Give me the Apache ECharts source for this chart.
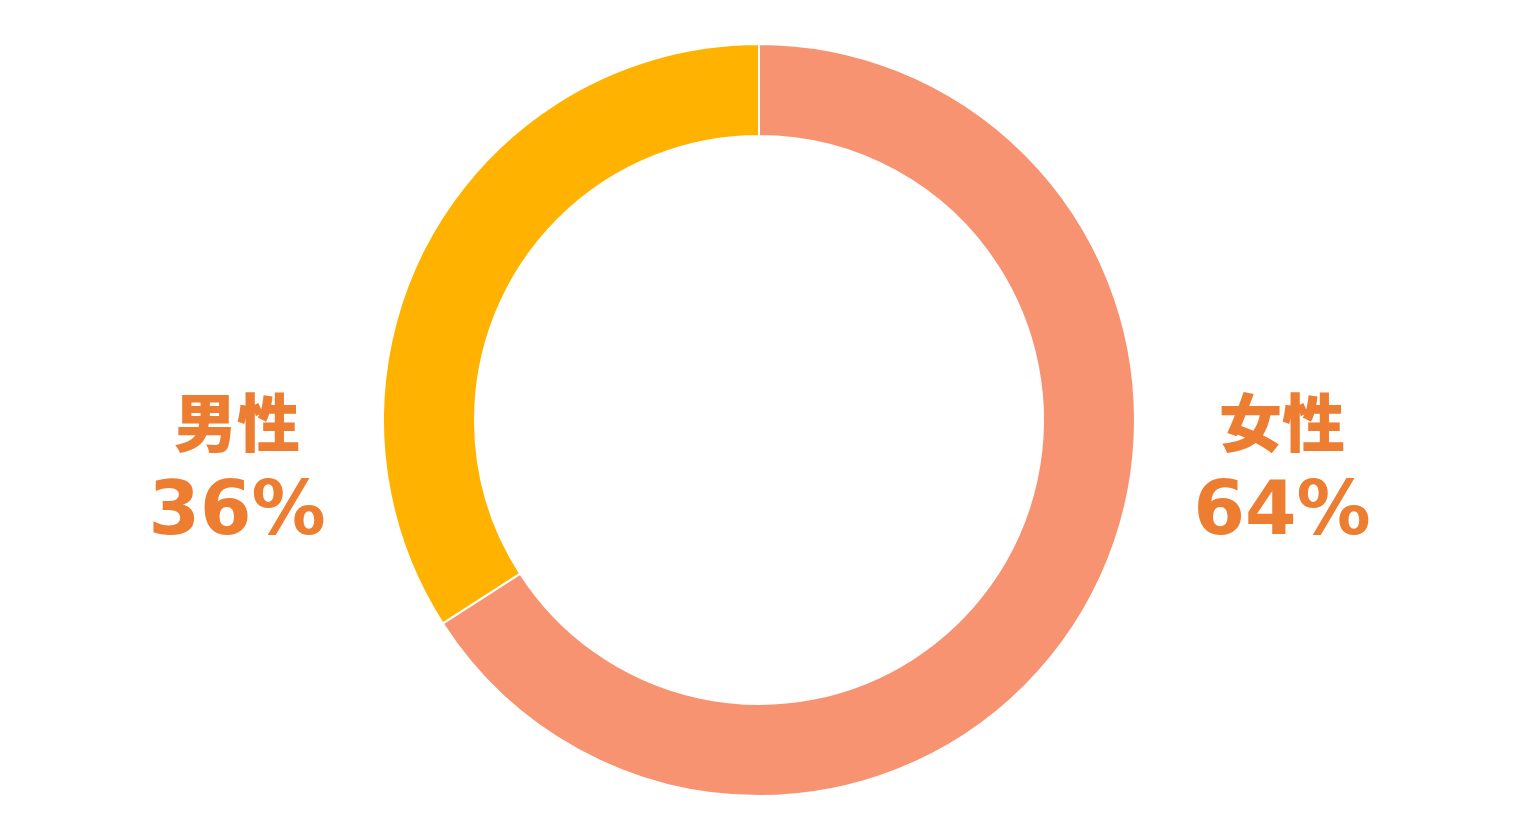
<!DOCTYPE html>
<html><head><meta charset="utf-8">
<script src="https://cdn.jsdelivr.net/npm/echarts@6/dist/echarts.min.js"></script>
<style>html,body{margin:0;padding:0;background:#fff}#c{width:1530px;height:822px}</style>
</head><body><div id="c"></div>
<script>
const categories = ['女性', '男性'];
const sliceValues = [65.9, 34.1];
const percentLabels = ['64%', '36%'];
const colors = ['#F89372', '#FFB300'];

const chart = echarts.init(document.getElementById('c'));
chart.setOption({
  animation: false,
  series: [{
    type: 'pie',
    center: [759, 420],
    radius: [284, 376],
    startAngle: 90,
    clockwise: true,
    itemStyle: { borderColor: '#fff', borderWidth: 2 },
    labelLine: { show: false },
    label: {
      show: true,
      position: 'outside',
      formatter: p => '{n|' + p.name + '}\n{p|' + percentLabels[p.dataIndex] + '}',
      rich: {
        n: { fontFamily: 'Noto Sans CJK JP', fontWeight: 900, fontSize: 63, lineHeight: 100, color: '#ED7D31', align: 'center' },
        p: { fontFamily: 'DejaVu Sans', fontWeight: 'bold', fontSize: 74, lineHeight: 86, color: '#ED7D31', align: 'center' }
      }
    },
    labelLayout: function (params) {
      return {
        x: params.dataIndex === 0 ? 1282 : 237,
        y: 465,
        align: 'center',
        verticalAlign: 'middle'
      };
    },
    data: categories.map((c, i) => ({ name: c, value: sliceValues[i], itemStyle: { color: colors[i] } }))
  }]
});
</script></body></html>
